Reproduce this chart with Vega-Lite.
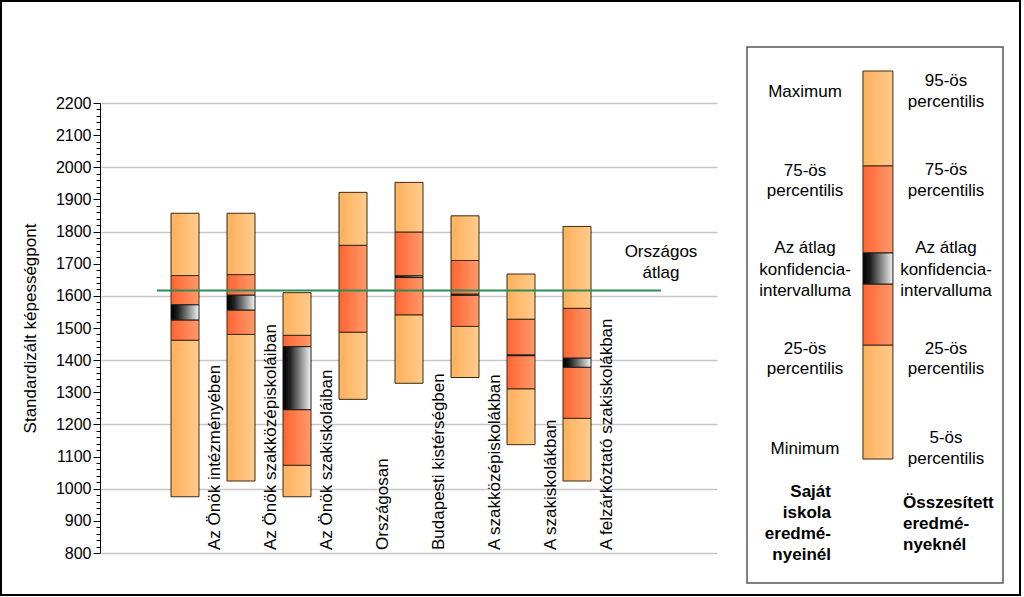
{
  "$schema": "https://vega.github.io/schema/vega-lite/v6.json",
  "width": 616,
  "height": 450,
  "autosize": {"type": "none"},
  "padding": {"left": 101, "top": 103, "right": 307, "bottom": 44},
  "background": "white",
  "config": {
    "font": "Liberation Sans",
    "view": {"stroke": null},
    "text": {"font": "Liberation Sans", "color": "#000000"}
  },
  "datasets": {
    "szegmensek": [
      {"kat": "Az Önök intézményében", "szegmens": "kulso", "also": 975, "felso": 1462},
      {"kat": "Az Önök intézményében", "szegmens": "belso", "also": 1462, "felso": 1525},
      {"kat": "Az Önök intézményében", "szegmens": "ki", "also": 1525, "felso": 1572},
      {"kat": "Az Önök intézményében", "szegmens": "belso", "also": 1572, "felso": 1663},
      {"kat": "Az Önök intézményében", "szegmens": "kulso", "also": 1663, "felso": 1857},
      {"kat": "Az Önök szakközépiskoláiban", "szegmens": "kulso", "also": 1024, "felso": 1480},
      {"kat": "Az Önök szakközépiskoláiban", "szegmens": "belso", "also": 1480, "felso": 1556},
      {"kat": "Az Önök szakközépiskoláiban", "szegmens": "ki", "also": 1556, "felso": 1602},
      {"kat": "Az Önök szakközépiskoláiban", "szegmens": "belso", "also": 1602, "felso": 1666},
      {"kat": "Az Önök szakközépiskoláiban", "szegmens": "kulso", "also": 1666, "felso": 1857},
      {"kat": "Az Önök szakiskoláiban", "szegmens": "kulso", "also": 975, "felso": 1073},
      {"kat": "Az Önök szakiskoláiban", "szegmens": "belso", "also": 1073, "felso": 1246},
      {"kat": "Az Önök szakiskoláiban", "szegmens": "ki", "also": 1246, "felso": 1442},
      {"kat": "Az Önök szakiskoláiban", "szegmens": "belso", "also": 1442, "felso": 1477},
      {"kat": "Az Önök szakiskoláiban", "szegmens": "kulso", "also": 1477, "felso": 1610},
      {"kat": "Országosan", "szegmens": "kulso", "also": 1278, "felso": 1487},
      {"kat": "Országosan", "szegmens": "belso", "also": 1487, "felso": 1757},
      {"kat": "Országosan", "szegmens": "kulso", "also": 1757, "felso": 1922},
      {"kat": "Budapesti kistérségben", "szegmens": "kulso", "also": 1328, "felso": 1541},
      {"kat": "Budapesti kistérségben", "szegmens": "belso", "also": 1541, "felso": 1657},
      {"kat": "Budapesti kistérségben", "szegmens": "ki", "also": 1657, "felso": 1662},
      {"kat": "Budapesti kistérségben", "szegmens": "belso", "also": 1662, "felso": 1798},
      {"kat": "Budapesti kistérségben", "szegmens": "kulso", "also": 1798, "felso": 1953},
      {"kat": "A szakközépiskolákban", "szegmens": "kulso", "also": 1346, "felso": 1505},
      {"kat": "A szakközépiskolákban", "szegmens": "belso", "also": 1505, "felso": 1602},
      {"kat": "A szakközépiskolákban", "szegmens": "ki", "also": 1602, "felso": 1605},
      {"kat": "A szakközépiskolákban", "szegmens": "belso", "also": 1605, "felso": 1710},
      {"kat": "A szakközépiskolákban", "szegmens": "kulso", "also": 1710, "felso": 1849},
      {"kat": "A szakiskolákban", "szegmens": "kulso", "also": 1137, "felso": 1311},
      {"kat": "A szakiskolákban", "szegmens": "belso", "also": 1311, "felso": 1414},
      {"kat": "A szakiskolákban", "szegmens": "ki", "also": 1414, "felso": 1416},
      {"kat": "A szakiskolákban", "szegmens": "belso", "also": 1416, "felso": 1527},
      {"kat": "A szakiskolákban", "szegmens": "kulso", "also": 1527, "felso": 1668},
      {"kat": "A felzárkóztató szakiskolákban", "szegmens": "kulso", "also": 1024, "felso": 1219},
      {"kat": "A felzárkóztató szakiskolákban", "szegmens": "belso", "also": 1219, "felso": 1378},
      {"kat": "A felzárkóztató szakiskolákban", "szegmens": "ki", "also": 1378, "felso": 1406},
      {"kat": "A felzárkóztató szakiskolákban", "szegmens": "belso", "also": 1406, "felso": 1561},
      {"kat": "A felzárkóztató szakiskolákban", "szegmens": "kulso", "also": 1561, "felso": 1816}
    ],
    "kategoriak": [
      {"kat": "Az Önök intézményében"},
      {"kat": "Az Önök szakközépiskoláiban"},
      {"kat": "Az Önök szakiskoláiban"},
      {"kat": "Országosan"},
      {"kat": "Budapesti kistérségben"},
      {"kat": "A szakközépiskolákban"},
      {"kat": "A szakiskolákban"},
      {"kat": "A felzárkóztató szakiskolákban"}
    ],
    "atlag": [
      {"tol": "Az Önök intézményében", "ig": "Országos átlag", "ertek": 1617, "felirat": "Országos átlag"}
    ],
    "jm_sav": [
      {"szegmens": "kulso", "also": 23.13, "felso": 44.4},
      {"szegmens": "belso", "also": 44.4, "felso": 55.78},
      {"szegmens": "ki", "also": 55.78, "felso": 61.57},
      {"szegmens": "belso", "also": 61.57, "felso": 77.8},
      {"szegmens": "kulso", "also": 77.8, "felso": 95.52}
    ],
    "jm_szoveg": [
      {"szint": "1", "bal": "Maximum", "jobb": "95-ös\npercentilis"},
      {"szint": "2", "bal": "75-ös\npercentilis", "jobb": "75-ös\npercentilis"},
      {"szint": "3", "bal": "Az átlag\nkonfidencia-\nintervalluma", "jobb": "Az átlag\nkonfidencia-\nintervalluma"},
      {"szint": "4", "bal": "25-ös\npercentilis", "jobb": "25-ös\npercentilis"},
      {"szint": "5", "bal": "Minimum", "jobb": "5-ös\npercentilis"},
      {"szint": "6", "bal": "Saját\niskola\neredmé-\nnyeinél", "jobb": "Összesített\neredmé-\nnyeknél"}
    ]
  },
  "layer": [
    {
      "layer": [
        {
          "data": {"name": "szegmensek"},
          "transform": [{"filter": "datum.szegmens === 'kulso'"}],
          "mark": {
            "type": "bar",
            "width": {"band": 0.5},
            "stroke": "#3a2a14",
            "strokeWidth": 1,
            "fill": {"gradient": "linear", "x1": 0, "y1": 0, "x2": 1, "y2": 0,
              "stops": [{"offset": 0, "color": "#FDB05A"}, {"offset": 1, "color": "#FFCB8C"}]}
          },
          "encoding": {
            "x": {"field": "kat", "type": "nominal", "axis": null,
              "scale": {"type": "band", "paddingInner": 0, "paddingOuter": 0,
                "domain": ["_0", "Az Önök intézményében", "Az Önök szakközépiskoláiban", "Az Önök szakiskoláiban", "Országosan", "Budapesti kistérségben", "A szakközépiskolákban", "A szakiskolákban", "A felzárkóztató szakiskolákban", "Országos átlag", "_10"]}},
            "y": {"field": "also", "type": "quantitative", "title": "Standardizált képességpont",
              "scale": {"domain": [800, 2200], "nice": false, "zero": false},
              "axis": {
                "values": [800,820,840,860,880,900,920,940,960,980,1000,1020,1040,1060,1080,1100,1120,1140,1160,1180,1200,1220,1240,1260,1280,1300,1320,1340,1360,1380,1400,1420,1440,1460,1480,1500,1520,1540,1560,1580,1600,1620,1640,1660,1680,1700,1720,1740,1760,1780,1800,1820,1840,1860,1880,1900,1920,1940,1960,1980,2000,2020,2040,2060,2080,2100,2120,2140,2160,2180,2200],
                "tickCount": 200,
                "format": "d",
                "labelExpr": "datum.value % 100 === 0 ? datum.label : ''",
                "labelOverlap": false,
                "labelBound": false,
                "labelFontSize": 16,
                "labelColor": "#000000",
                "labelPadding": 2,
                "offset": 1,
                "domainColor": "#000000",
                "domainWidth": 1,
                "tickColor": "#000000",
                "tickWidth": 1,
                "tickSize": {"condition": {"test": "datum.value % 100 === 0", "value": 7}, "value": 4},
                "grid": true,
                "gridColor": "#c6c6c6",
                "gridWidth": 1.5,
                "gridOpacity": {"condition": {"test": "datum.value % 200 === 0", "value": 1}, "value": 0},
                "titleFontSize": 17,
                "titleFontWeight": "normal",
                "titleColor": "#000000",
                "titlePadding": 16
              }},
            "y2": {"field": "felso"}
          }
        },
        {
          "data": {"name": "szegmensek"},
          "transform": [{"filter": "datum.szegmens === 'belso'"}],
          "mark": {
            "type": "bar",
            "width": {"band": 0.5},
            "stroke": "#3a2a14",
            "strokeWidth": 1,
            "fill": {"gradient": "linear", "x1": 0, "y1": 0, "x2": 1, "y2": 0,
              "stops": [{"offset": 0, "color": "#FF6430"}, {"offset": 1, "color": "#FF9A6C"}]}
          },
          "encoding": {
            "x": {"field": "kat", "type": "nominal", "axis": null,
              "scale": {"type": "band", "paddingInner": 0, "paddingOuter": 0,
                "domain": ["_0", "Az Önök intézményében", "Az Önök szakközépiskoláiban", "Az Önök szakiskoláiban", "Országosan", "Budapesti kistérségben", "A szakközépiskolákban", "A szakiskolákban", "A felzárkóztató szakiskolákban", "Országos átlag", "_10"]}},
            "y": {"field": "also", "type": "quantitative", "title": "Standardizált képességpont"},
            "y2": {"field": "felso"}
          }
        },
        {
          "data": {"name": "szegmensek"},
          "transform": [{"filter": "datum.szegmens === 'ki'"}],
          "mark": {
            "type": "bar",
            "width": {"band": 0.5},
            "stroke": "#1a1a1a",
            "strokeWidth": 1,
            "fill": {"gradient": "linear", "x1": 0, "y1": 0, "x2": 1, "y2": 0,
              "stops": [{"offset": 0, "color": "#000000"}, {"offset": 0.25, "color": "#202020"}, {"offset": 1, "color": "#f4f4f4"}]}
          },
          "encoding": {
            "x": {"field": "kat", "type": "nominal", "axis": null,
              "scale": {"type": "band", "paddingInner": 0, "paddingOuter": 0,
                "domain": ["_0", "Az Önök intézményében", "Az Önök szakközépiskoláiban", "Az Önök szakiskoláiban", "Országosan", "Budapesti kistérségben", "A szakközépiskolákban", "A szakiskolákban", "A felzárkóztató szakiskolákban", "Országos átlag", "_10"]}},
            "y": {"field": "also", "type": "quantitative", "title": "Standardizált képességpont"},
            "y2": {"field": "felso"}
          }
        },
        {
          "data": {"name": "atlag"},
          "mark": {"type": "rule", "color": "#2E8B57", "strokeWidth": 2},
          "encoding": {
            "x": {"field": "tol", "type": "nominal", "bandPosition": 0, "axis": null,
              "scale": {"type": "band", "paddingInner": 0, "paddingOuter": 0,
                "domain": ["_0", "Az Önök intézményében", "Az Önök szakközépiskoláiban", "Az Önök szakiskoláiban", "Országosan", "Budapesti kistérségben", "A szakközépiskolákban", "A szakiskolákban", "A felzárkóztató szakiskolákban", "Országos átlag", "_10"]}},
            "x2": {"field": "ig", "bandPosition": 1},
            "y": {"field": "ertek", "type": "quantitative", "title": "Standardizált képességpont"}
          }
        },
        {
          "data": {"name": "atlag"},
          "mark": {"type": "text", "fontSize": 17, "align": "center", "baseline": "middle", "lineBreak": " ", "lineHeight": 21, "dy": -38},
          "encoding": {
            "x": {"field": "ig", "type": "nominal", "bandPosition": 1, "axis": null,
              "scale": {"type": "band", "paddingInner": 0, "paddingOuter": 0,
                "domain": ["_0", "Az Önök intézményében", "Az Önök szakközépiskoláiban", "Az Önök szakiskoláiban", "Országosan", "Budapesti kistérségben", "A szakközépiskolákban", "A szakiskolákban", "A felzárkóztató szakiskolákban", "Országos átlag", "_10"]}},
            "y": {"field": "ertek", "type": "quantitative", "title": "Standardizált képességpont"},
            "text": {"field": "felirat"}
          }
        },
        {
          "data": {"name": "kategoriak"},
          "mark": {"type": "text", "fontSize": 17, "angle": 270, "align": "left", "baseline": "middle", "dx": 3, "dy": 2},
          "encoding": {
            "x": {"field": "kat", "type": "nominal", "bandPosition": 1, "axis": null,
              "scale": {"type": "band", "paddingInner": 0, "paddingOuter": 0,
                "domain": ["_0", "Az Önök intézményében", "Az Önök szakközépiskoláiban", "Az Önök szakiskoláiban", "Országosan", "Budapesti kistérségben", "A szakközépiskolákban", "A szakiskolákban", "A felzárkóztató szakiskolákban", "Országos átlag", "_10"]}},
            "y": {"datum": 800, "type": "quantitative", "title": "Standardizált képességpont"},
            "text": {"field": "kat"}
          }
        }
      ]
    },
    {
      "layer": [
        {
          "data": {"values": [{}]},
          "mark": {"type": "rect", "fill": null, "fillOpacity": 0, "stroke": "#000000", "strokeWidth": 2},
          "encoding": {
            "x": {"datum": -291.4, "type": "quantitative", "axis": null, "scale": {"domain": [0, 100], "range": [646, 902], "nice": false, "zero": false}},
            "x2": {"datum": 106.64},
            "y": {"datum": -2.24, "type": "quantitative", "axis": null, "scale": {"domain": [0, 100], "range": [480, -56], "nice": false, "zero": false}},
            "y2": {"datum": 108.58}
          }
        },
        {
          "data": {"values": [{}]},
          "mark": {"type": "rect", "fill": "#ffffff", "stroke": "#555555", "strokeWidth": 1.5},
          "encoding": {
            "x": {"datum": 0, "type": "quantitative", "axis": null},
            "x2": {"datum": 100},
            "y": {"datum": 0, "type": "quantitative", "axis": null},
            "y2": {"datum": 100}
          }
        },
        {
          "data": {"name": "jm_sav"},
          "transform": [{"filter": "datum.szegmens === 'kulso'"}],
          "mark": {"type": "rect", "stroke": "#3a2a14", "strokeWidth": 1,
            "fill": {"gradient": "linear", "x1": 0, "y1": 0, "x2": 1, "y2": 0,
              "stops": [{"offset": 0, "color": "#FDB05A"}, {"offset": 1, "color": "#FFCB8C"}]}},
          "encoding": {
            "x": {"datum": 45.3, "type": "quantitative", "axis": null},
            "x2": {"datum": 57.0},
            "y": {"field": "also", "type": "quantitative", "axis": null},
            "y2": {"field": "felso"}
          }
        },
        {
          "data": {"name": "jm_sav"},
          "transform": [{"filter": "datum.szegmens === 'belso'"}],
          "mark": {"type": "rect", "stroke": "#3a2a14", "strokeWidth": 1,
            "fill": {"gradient": "linear", "x1": 0, "y1": 0, "x2": 1, "y2": 0,
              "stops": [{"offset": 0, "color": "#FF6430"}, {"offset": 1, "color": "#FF9A6C"}]}},
          "encoding": {
            "x": {"datum": 45.3, "type": "quantitative", "axis": null},
            "x2": {"datum": 57.0},
            "y": {"field": "also", "type": "quantitative", "axis": null},
            "y2": {"field": "felso"}
          }
        },
        {
          "data": {"name": "jm_sav"},
          "transform": [{"filter": "datum.szegmens === 'ki'"}],
          "mark": {"type": "rect", "stroke": "#1a1a1a", "strokeWidth": 1,
            "fill": {"gradient": "linear", "x1": 0, "y1": 0, "x2": 1, "y2": 0,
              "stops": [{"offset": 0, "color": "#000000"}, {"offset": 0.25, "color": "#202020"}, {"offset": 1, "color": "#f4f4f4"}]}},
          "encoding": {
            "x": {"datum": 45.3, "type": "quantitative", "axis": null},
            "x2": {"datum": 57.0},
            "y": {"field": "also", "type": "quantitative", "axis": null},
            "y2": {"field": "felso"}
          }
        }
      ]
    },
    {
      "data": {"name": "jm_szoveg"},
      "layer": [
        {
          "transform": [{"filter": "datum.szint !== '6' && split(datum.bal, '\\n').length === 1"}],
          "mark": {"type": "text", "fontSize": 17, "align": "center", "baseline": "middle", "lineBreak": "\n", "lineHeight": 21},
          "encoding": {
            "x": {"datum": 22.66, "type": "quantitative", "axis": null, "scale": {"domain": [0, 100], "range": [646, 902], "nice": false, "zero": false}},
            "y": {"field": "szint", "type": "ordinal", "axis": null, "scale": {"type": "point", "domain": ["1", "2", "3", "4", "5", "6"], "range": [-11.5, 434.75], "padding": 0}},
            "text": {"field": "bal"}
          }
        },
        {
          "transform": [{"filter": "datum.szint !== '6' && split(datum.bal, '\\n').length === 2"}],
          "mark": {"type": "text", "fontSize": 17, "align": "center", "baseline": "middle", "lineBreak": "\n", "lineHeight": 20, "dy": -10},
          "encoding": {
            "x": {"datum": 22.66, "type": "quantitative", "axis": null},
            "y": {"field": "szint", "type": "ordinal", "axis": null},
            "text": {"field": "bal"}
          }
        },
        {
          "transform": [{"filter": "datum.szint !== '6' && split(datum.bal, '\\n').length === 3"}],
          "mark": {"type": "text", "fontSize": 17, "align": "center", "baseline": "middle", "lineBreak": "\n", "lineHeight": 21.5, "dy": -22},
          "encoding": {
            "x": {"datum": 22.66, "type": "quantitative", "axis": null},
            "y": {"field": "szint", "type": "ordinal", "axis": null},
            "text": {"field": "bal"}
          }
        },
        {
          "transform": [{"filter": "datum.szint !== '6' && split(datum.jobb, '\\n').length === 2"}],
          "mark": {"type": "text", "fontSize": 17, "align": "center", "baseline": "middle", "lineBreak": "\n", "lineHeight": 20.5, "dy": -10.5},
          "encoding": {
            "x": {"datum": 77.73, "type": "quantitative", "axis": null},
            "y": {"field": "szint", "type": "ordinal", "axis": null},
            "text": {"field": "jobb"}
          }
        },
        {
          "transform": [{"filter": "datum.szint !== '6' && split(datum.jobb, '\\n').length === 3"}],
          "mark": {"type": "text", "fontSize": 17, "align": "center", "baseline": "middle", "lineBreak": "\n", "lineHeight": 21.5, "dy": -22},
          "encoding": {
            "x": {"datum": 77.73, "type": "quantitative", "axis": null},
            "y": {"field": "szint", "type": "ordinal", "axis": null},
            "text": {"field": "jobb"}
          }
        },
        {
          "transform": [{"filter": "datum.szint === '6'"}],
          "mark": {"type": "text", "fontSize": 17, "fontWeight": "bold", "align": "right", "baseline": "middle", "lineBreak": "\n", "lineHeight": 21, "dy": -46},
          "encoding": {
            "x": {"datum": 32.8, "type": "quantitative", "axis": null},
            "y": {"field": "szint", "type": "ordinal", "axis": null},
            "text": {"field": "bal"}
          }
        },
        {
          "transform": [{"filter": "datum.szint === '6'"}],
          "mark": {"type": "text", "fontSize": 17, "fontWeight": "bold", "align": "left", "baseline": "middle", "lineBreak": "\n", "lineHeight": 21, "dy": -35},
          "encoding": {
            "x": {"datum": 60.94, "type": "quantitative", "axis": null},
            "y": {"field": "szint", "type": "ordinal", "axis": null},
            "text": {"field": "jobb"}
          }
        }
      ]
    }
  ],
  "resolve": {
    "scale": {"x": "independent", "y": "independent"},
    "axis": {"x": "independent", "y": "independent"}
  }
}
